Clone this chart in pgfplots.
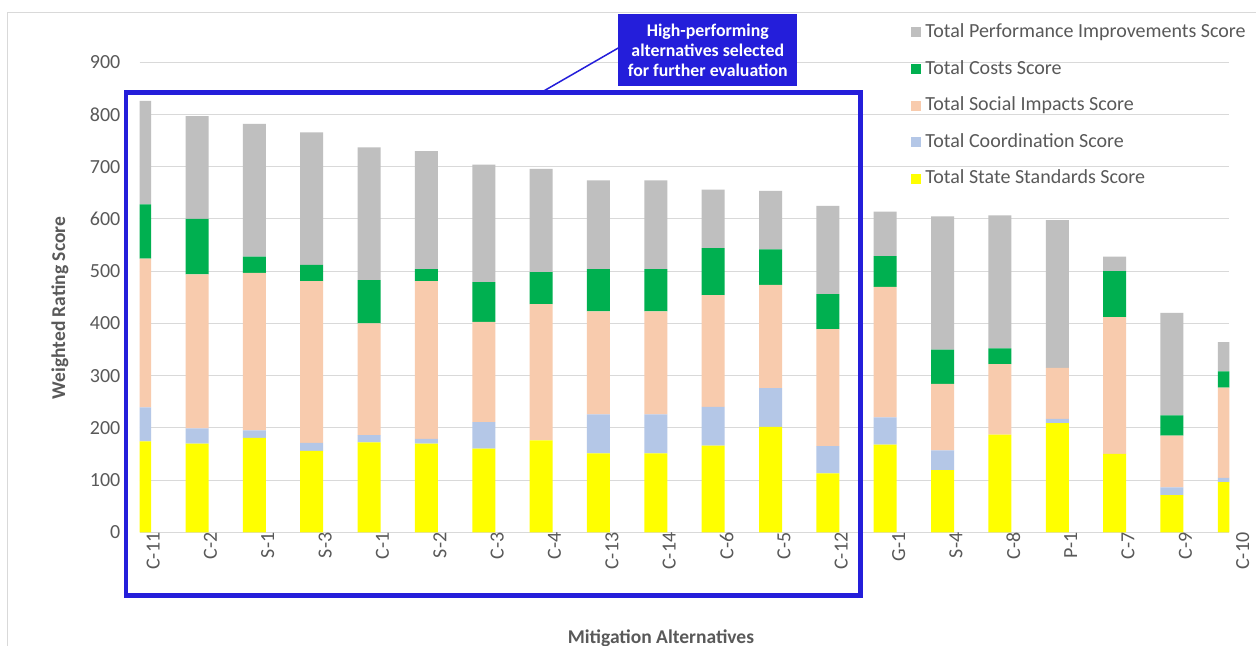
\documentclass[border=0pt]{standalone}
\usepackage{pgfplots}
\pgfplotsset{compat=1.18}
\usepackage{pgfplotstable}
\usepackage{fontspec}
\setmainfont{Carlito}
\definecolor{cgrey}{HTML}{BFBFBF}
\definecolor{cgreen}{HTML}{00B050}
\definecolor{cpeach}{HTML}{F8CBAD}
\definecolor{cblue}{HTML}{B4C7E7}
\definecolor{cyellow}{HTML}{FFFF00}
\definecolor{ctext}{HTML}{595959}
\definecolor{cgrid}{HTML}{D9D9D9}
\definecolor{boxblue}{RGB}{36,30,218}

\pgfplotstableread{
idx state coord social costs perf
0  174 65 285 104 198
1  170 29 295 106 197
2  181 14 302 31 254
3  156 15 310 31 254
4  172 14 214 83 254
5  170 9  302 23 226
6  160 51 192 76 225
7  176 0  261 61 198
8  151 75 197 81 170
9  151 75 197 81 170
10 166 74 214 90 112
11 202 74 198 68 112
12 113 52 224 67 169
13 168 52 250 59 85
14 119 38 127 66 255
15 187 0  135 30 255
16 209 8  98  0  283
17 150 0  262 88 28
18 71  15 99  39 196
19 96  8  173 31 56
}\datatable

\begin{document}
\begin{tikzpicture}[x=1pt,y=1pt]
\useasboundingbox (0,0) rectangle (628,323);
\fill[white] (0,0) rectangle (628,323);
% chart border
\draw[cgrid, line width=0.5pt] (3.65,-5) -- (3.65,316.85) -- (640,316.85);
\begin{axis}[
  at={(69.85pt,56.85pt)}, anchor=south west,
  scale only axis,
  width=544.8pt, height=235pt,
  xmin=0, xmax=19, ymin=0, ymax=900,
  enlargelimits=false,
  ybar stacked, bar width=11.5pt,
  axis line style={draw=none},
  major tick length=0pt,
  tick style={draw=none},
  ymajorgrids, grid style={cgrid, line width=0.5pt},
  ytick={0,100,...,900},
  xtick={0,...,19},
  xticklabels={C-11,C-2,S-1,S-3,C-1,S-2,C-3,C-4,C-13,C-14,C-6,C-5,C-12,G-1,S-4,C-8,P-1,C-7,C-9,C-10},
  /pgf/number format/assume math mode=true,
  tick label style={font=\fontsize{10}{12}\selectfont, text=ctext, inner sep=0pt},
  yticklabel style={anchor=east, xshift=-9.5pt},
  xticklabel style={rotate=90, anchor=east, yshift=-6.7pt},
  ylabel={Weighted Rating Score},
  xlabel={Mitigation Alternatives},
  every axis y label/.style={at={(axis description cs:-0.0731,0.477)}, rotate=90, anchor=center, font=\fontsize{9.75}{11}\selectfont\bfseries, text=ctext, inner sep=0pt},
  every axis x label/.style={at={(axis description cs:0.4784,-0.2249)}, anchor=center, font=\fontsize{9.75}{11}\selectfont\bfseries, text=ctext, inner sep=0pt},
  legend image code/.code={\fill[#1] (0pt,0pt) rectangle (5pt,5pt);},
  reverse legend,
  legend cell align=left,
  legend style={draw=none, fill=none, at={(axis cs:13.45,977)}, anchor=north west,
    inner sep=0pt, row sep=8.3pt, column sep=2pt,
    font=\fontsize{10}{12}\selectfont, text=ctext,
    nodes={inner sep=0pt, text height=0.75em, text depth=0.25em, anchor=base west}},
]
\addplot[fill=cyellow, draw=none] table[x=idx, y=state] {\datatable};
\addlegendentry{Total State Standards Score}
\addplot[fill=cblue, draw=none] table[x=idx, y=coord] {\datatable};
\addlegendentry{Total Coordination Score}
\addplot[fill=cpeach, draw=none] table[x=idx, y=social] {\datatable};
\addlegendentry{Total Social Impacts Score}
\addplot[fill=cgreen, draw=none] table[x=idx, y=costs] {\datatable};
\addlegendentry{Total Costs Score}
\addplot[fill=cgrey, draw=none] table[x=idx, y=perf] {\datatable};
\addlegendentry{Total Performance Improvements Score}
\end{axis}
% highlight box
\draw[boxblue, line width=2.25pt] (63,276.75) rectangle (430.15,25.25);
\draw[boxblue, line width=0.75pt] (271,277) -- (309.15,299);
\node[fill=boxblue, text=white, align=center, minimum width=89.5pt, minimum height=36pt, inner sep=0pt,
  font=\fontsize{8.9}{10}\selectfont\bfseries] at (353.9,298) {High-performing\\alternatives selected\\for further evaluation};
\end{tikzpicture}
\end{document}
